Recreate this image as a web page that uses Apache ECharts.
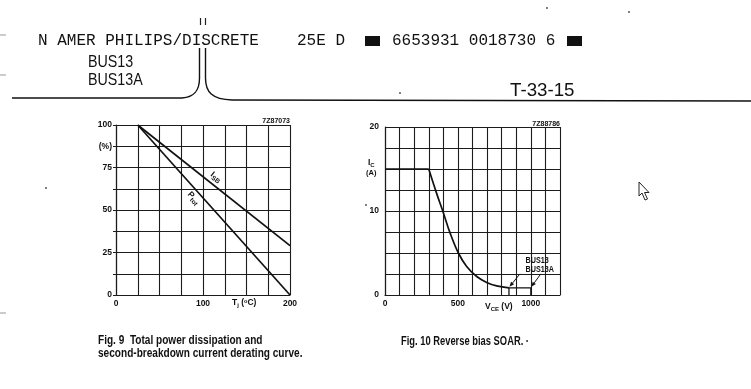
<!DOCTYPE html>
<html><head><meta charset="utf-8">
<script src="https://cdn.jsdelivr.net/npm/echarts@6/dist/echarts.min.js"></script>
<style>html,body{margin:0;padding:0;background:#fff}#c{width:751px;height:389px}</style>
</head><body><div id="c"></div>
<script>
// ---- Fig. 9 data (derating) ----
const derateTemp = [25, 200];          // Tj (°C)
const ptotPct = [100, 0];              // Ptot (%)
const isbPct = [100, 29];              // ISB (%)
// ---- Fig. 10 data (reverse bias SOAR) ----
const soarFlatV = [0, 300];
const soarFlatI = [15, 15];
const soarCurveV = [300, 354, 400, 446, 503, 560, 629, 697, 766, 850];
const soarCurveI = [15, 12.1, 9.8, 7.4, 5.0, 3.4, 2.2, 1.5, 1.08, 0.85];
const soarTailV = [850, 850, 1000, 1000];
const soarTailI = [0, 0.85, 0.85, 0];
// ---- tick labels ----
const fig9YLabels = {0:'0', 25:'25', 50:'50', 75:'75', 87.5:'(%)', 100:'100'};
const fig9XLabels = {0:'0', 100:'100', 200:'200'};
const fig10YLabels = {0:'0', 10:'10', 20:'20'};
const fig10XLabels = {0:'0', 500:'500', 1000:'1000'};

const F = '"Liberation Sans", Arial, sans-serif';
const M = '"Liberation Mono", "DejaVu Sans Mono", monospace';
const LC = '#1c1c1c';
const zip = (a, b) => a.map((v, i) => [v, b[i]]);

const chart = echarts.init(document.getElementById('c'));
function valAxis(grid, min, max, interval, labels, extra) {
  return Object.assign({
    gridIndex: grid, type: 'value', min, max, interval,
    axisLine: {show: true, lineStyle: {color: LC, width: 1.2}},
    axisTick: {show: false},
    splitLine: {show: true, lineStyle: {color: LC, width: 1.1}},
    axisLabel: {formatter: v => labels[v] !== undefined ? labels[v] : '', fontSize: 8.5, fontWeight: 'bold',
      color: '#111', fontFamily: F, margin: 4, showMinLabel: true, showMaxLabel: true}
  }, extra || {});
}
const lineSeries = (name, xi, data, extra) => Object.assign({
  name, type: 'line', xAxisIndex: xi, yAxisIndex: xi, data, symbol: 'none',
  lineStyle: {color: '#111', width: 1.7}, silent: true
}, extra || {});

chart.setOption({
  animation: false,
  backgroundColor: '#fff',
  grid: [{left: 116, top: 125, width: 174, height: 170}, {left: 385, top: 127, width: 175, height: 168}],
  xAxis: [valAxis(0, 0, 200, 25, fig9XLabels), valAxis(1, 0, 1200, 100, fig10XLabels)],
  yAxis: [valAxis(0, 0, 100, 12.5, fig9YLabels, {axisTick: {show: true, length: 3, lineStyle: {color: LC}}}),
          valAxis(1, 0, 20, 2.5, fig10YLabels, {axisLabel: {formatter: v => fig10YLabels[v] !== undefined ? fig10YLabels[v] : '',
            fontSize: 8.5, fontWeight: 'bold', color: '#111', fontFamily: F, margin: 6}})],
  series: [
    lineSeries('Ptot', 0, zip(derateTemp, ptotPct)),
    lineSeries('ISB', 0, zip(derateTemp, isbPct)),
    lineSeries('flat', 1, zip(soarFlatV, soarFlatI)),
    lineSeries('curve', 1, zip(soarCurveV, soarCurveI), {smooth: 0.4}),
    lineSeries('tail', 1, zip(soarTailV, soarTailI), {lineStyle: {color: '#111', width: 1.3}})
  ]
});

function txt(x, y, text, size, o) {
  o = o || {};
  return {type: 'text', x, y, scaleX: o.sx || 1, rotation: o.rot || 0, silent: true,
    style: {text, fontSize: size, fontFamily: o.font || F, fontWeight: o.w || 'normal', fill: o.fill || '#111',
      align: o.align || 'left', verticalAlign: o.va || 'middle', rich: o.rich}};
}
const g = [];
// header
g.push(txt(38, 41, 'N AMER PHILIPS/DISCRETE', 16, {font: M}));
g.push(txt(297, 41, '25E D', 16, {font: M}));
g.push({type: 'rect', shape: {x: 365, y: 36, width: 15, height: 10}, style: {fill: '#111'}});
g.push(txt(392, 41, '6653931 0018730 6', 16, {font: M}));
g.push({type: 'rect', shape: {x: 567, y: 36, width: 15, height: 10}, style: {fill: '#111'}});
g.push({type: 'line', shape: {x1: 200.5, y1: 18, x2: 200.5, y2: 25}, style: {stroke: '#222', lineWidth: 1.2}});
g.push({type: 'line', shape: {x1: 205.5, y1: 18, x2: 205.5, y2: 25}, style: {stroke: '#222', lineWidth: 1.2}});
g.push(txt(88, 62, 'BUS13', 17, {sx: 0.84}));
g.push(txt(88, 80, 'BUS13A', 17, {sx: 0.84}));
g.push(txt(510, 91, 'T-33-15', 18, {sx: 1.04}));
const ST = {stroke: '#111', fill: null, lineWidth: 1.4};
g.push({type: 'line', shape: {x1: 12, y1: 98, x2: 182, y2: 98}, style: ST});
g.push({type: 'bezierCurve', shape: {x1: 182, y1: 98, cpx1: 195, cpy1: 97, cpx2: 199.5, cpy2: 90, x2: 199.5, y2: 78}, style: ST});
g.push({type: 'line', shape: {x1: 199.5, y1: 78, x2: 199.5, y2: 48}, style: ST});
g.push({type: 'line', shape: {x1: 205.5, y1: 48, x2: 205.5, y2: 78}, style: ST});
g.push({type: 'bezierCurve', shape: {x1: 205.5, y1: 78, cpx1: 205.5, cpy1: 92, cpx2: 212, cpy2: 99.5, x2: 232, y2: 100}, style: ST});
g.push({type: 'line', shape: {x1: 232, y1: 100, x2: 751, y2: 101}, style: ST});
// edge marks / specks
[35, 75, 313].forEach(y => g.push({type: 'line', shape: {x1: 0, y1: y, x2: 6, y2: y}, style: {stroke: '#999', lineWidth: 1}}));
[[400, 93], [629, 12], [547, 8], [366, 205], [46, 188]].forEach(p => g.push({type: 'circle', shape: {cx: p[0], cy: p[1], r: 0.9}, style: {fill: '#444'}}));
// cursor
g.push({type: 'polygon', shape: {points: [[639, 182], [639, 196], [642, 193], [645, 200], [647.5, 199], [644.5, 192.5], [649, 192.5]]},
  style: {fill: '#fff', stroke: '#222', lineWidth: 1}});

// Fig.9 annotations
g.push(txt(290, 121, '7Z87073', 7, {align: 'right', w: 'bold'}));
g.push(txt(232, 303, 'T{s|j} ({u|o}C)', 8.5, {w: 'bold',
  rich: {s: {fontSize: 6, fontWeight: 'bold', padding: [5, 0, 0, 0]}, u: {fontSize: 5.5, fontWeight: 'bold', padding: [0, 0, 4, 0]}}}));
const pIsb = chart.convertToPixel({xAxisIndex: 0, yAxisIndex: 0}, [115, isbPct[0] + (isbPct[1] - isbPct[0]) * (115 - 25) / 175]);
const pPtot = chart.convertToPixel({xAxisIndex: 0, yAxisIndex: 0}, [88, ptotPct[0] + (ptotPct[1] - ptotPct[0]) * (88 - 25) / 175]);
g.push(txt(pIsb[0], pIsb[1] - 10, 'I{s|SB}', 8.5, {w: 'bold', align: 'center', rot: -38 * Math.PI / 180,
  rich: {s: {fontSize: 6.5, fontWeight: 'bold', padding: [5, 0, 0, 0]}}}));
g.push(txt(pPtot[0] + 1, pPtot[1] + 12, 'P{s|tot}', 8.5, {w: 'bold', align: 'center', rot: -48 * Math.PI / 180,
  rich: {s: {fontSize: 6.5, fontWeight: 'bold', padding: [5, 0, 0, 0]}}}));

// Fig.10 annotations
g.push(txt(560, 124, '7Z88786', 7, {align: 'right', w: 'bold'}));
g.push(txt(368, 163, 'I{s|C}', 8.5, {w: 'bold', rich: {s: {fontSize: 6, fontWeight: 'bold', padding: [5, 0, 0, 0]}}}));
g.push(txt(366, 173, '(A)', 7.5, {w: 'bold'}));
g.push(txt(485, 307, 'V{s|CE} (V)', 8.5, {w: 'bold', rich: {s: {fontSize: 6, fontWeight: 'bold', padding: [5, 0, 0, 0]}}}));
g.push(txt(525.5, 261, 'BUS13', 9, {w: 'bold', sx: 0.8}));
g.push(txt(525.5, 269.5, 'BUS13A', 9, {w: 'bold', sx: 0.8}));
function arrow(tail, tip) {
  const dx = tip[0] - tail[0], dy = tip[1] - tail[1], L = Math.hypot(dx, dy), ux = dx / L, uy = dy / L;
  const b = [tip[0] - ux * 5, tip[1] - uy * 5];
  g.push({type: 'line', shape: {x1: tail[0], y1: tail[1], x2: b[0], y2: b[1]}, style: {stroke: '#111', lineWidth: 1}});
  g.push({type: 'polygon', shape: {points: [tip, [b[0] - uy * 2, b[1] + ux * 2], [b[0] + uy * 2, b[1] - ux * 2]]}, style: {fill: '#111'}});
}
const t1 = chart.convertToPixel({xAxisIndex: 1, yAxisIndex: 1}, [soarTailV[1], soarTailI[1]]);
const t2 = chart.convertToPixel({xAxisIndex: 1, yAxisIndex: 1}, [soarTailV[2], soarTailI[2]]);
arrow([t1[0] + 11, t1[1] - 14], [t1[0] + 0.5, t1[1] - 1]);
arrow([t2[0] + 10, t2[1] - 14], [t2[0] + 0.5, t2[1] - 1]);

// captions
g.push(txt(98, 341, 'Fig. 9  Total power dissipation and', 12, {w: 'bold', sx: 0.84}));
g.push(txt(98, 354, 'second-breakdown current derating curve.', 12, {w: 'bold', sx: 0.84}));
g.push(txt(401, 342, 'Fig. 10 Reverse bias SOAR. ·', 12, {w: 'bold', sx: 0.78}));

chart.setOption({graphic: {elements: g}});
</script>
</body></html>
